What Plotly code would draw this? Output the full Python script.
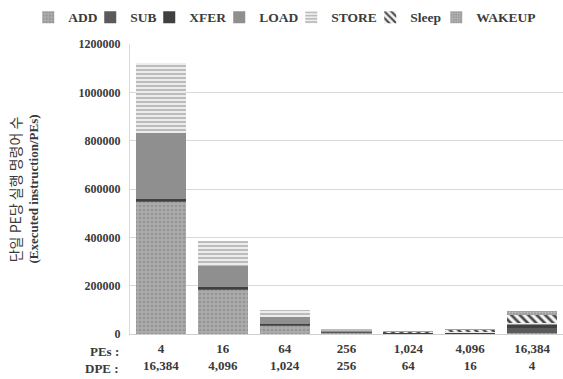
import plotly.graph_objects as go

# Processing-element configurations (x axis categories)
pes = ["4", "16", "64", "256", "1,024", "4,096", "16,384"]
dpe = ["16,384", "4,096", "1,024", "256", "64", "16", "4"]

# Executed instructions per PE, by instruction type
add = [547000, 186000, 36000, 8000, 3000, 3000, 4000]
sub = [6000, 4000, 2000, 1000, 500, 500, 20000]
xfer = [6000, 4000, 3000, 1500, 1000, 1500, 16000]
load = [274000, 87000, 30000, 4000, 1500, 1500, 4000]
store = [289000, 104000, 28000, 3500, 1500, 1500, 2000]
sleep = [0, 0, 0, 0, 3000, 9000, 32000]
wakeup = [0, 0, 0, 0, 1000, 3000, 17000]

series = [
    ("ADD", add, dict(bgcolor="#ababab", fgcolor="#939393", shape=".", size=4, solidity=0.3), 17),
    ("SUB", sub, dict(bgcolor="#5a5a5a", fgcolor="#5a5a5a", shape=""), 14),
    ("XFER", xfer, dict(bgcolor="#404040", fgcolor="#404040", shape=""), 25),
    ("LOAD", load, dict(bgcolor="#8f8f8f", fgcolor="#8f8f8f", shape=""), 27),
    ("STORE", store, dict(bgcolor="#ececec", fgcolor="#b0b0b0", shape="-", size=4, solidity=0.4), 34),
    ("Sleep", sleep, dict(bgcolor="#f4f4f4", fgcolor="#4a4a4a", shape="\\", size=6, solidity=0.45), 21),
    ("WAKEUP", wakeup, dict(bgcolor="#9c9c9c", fgcolor="#c0c0c0", shape=".", size=3, solidity=0.3), 64),
]

ticktext = [f"{p}<br>{d}" for p, d in zip(pes, dpe)]

fig = go.Figure()
for name, vals, pat, lw in series:
    fig.add_trace(go.Bar(
        name=name, x=pes, y=vals,
        marker=dict(color=pat["bgcolor"], pattern=dict(fillmode="replace", **pat),
                    line=dict(width=0)),
        legendwidth=lw,
    ))

serif = "Liberation Serif"
fig.update_layout(
    barmode="stack",
    bargap=0.19,
    width=563, height=379,
    margin=dict(l=130, r=0, t=44, b=45),
    plot_bgcolor="white", paper_bgcolor="white",
    font=dict(family=serif, color="#3a3a3a"),
    legend=dict(orientation="h", x=-0.235, xanchor="left", y=1.145,
                yanchor="top", font=dict(family=serif, size=13.5, color="#3c3c3c", weight="bold"),
                itemwidth=30, traceorder="normal", tracegroupgap=0,
                itemclick=False, bgcolor="rgba(0,0,0,0)"),
    showlegend=True,
)
fig.update_yaxes(
    range=[0, 1200000], dtick=200000, tickformat="d",
    showgrid=True, gridcolor="#d9d9d9", gridwidth=1,
    showline=True, linecolor="#d9d9d9", zeroline=False,
    tickfont=dict(family=serif, size=12, color="#3a3a3a", weight="bold"),
    ticklabelstandoff=6,
)
fig.update_xaxes(
    tickmode="array", tickvals=pes, ticktext=ticktext,
    showline=True, linecolor="#cfcfcf", showgrid=False,
    tickfont=dict(family=serif, size=13, color="#3a3a3a", weight="bold"),
    ticklabelstandoff=2,
)

# Row labels for the two-line category axis
fig.add_annotation(text="<b>PEs :</b>", xref="paper", yref="paper", x=-0.02, y=-0.026,
                   xanchor="right", yanchor="top", showarrow=False,
                   font=dict(family=serif, size=13, color="#3a3a3a"))
fig.add_annotation(text="<b>DPE :</b>", xref="paper", yref="paper", x=-0.02, y=-0.085,
                   xanchor="right", yanchor="top", showarrow=False,
                   font=dict(family=serif, size=13, color="#3a3a3a"))

# Two-line y-axis title in two scripts
fig.add_annotation(text="단일 PE당 실행 명령어 수", xref="paper", yref="paper",
                   x=-0.265, y=0.5, xanchor="center", yanchor="middle", textangle=-90,
                   showarrow=False,
                   font=dict(family="Noto Sans CJK KR", size=14, color="#3a3a3a"))
fig.add_annotation(text="<b>(Executed instruction/PEs)</b>", xref="paper", yref="paper",
                   x=-0.225, y=0.5, xanchor="center", yanchor="middle", textangle=-90,
                   showarrow=False,
                   font=dict(family=serif, size=13, color="#3a3a3a"))

fig.write_html("out.html")
